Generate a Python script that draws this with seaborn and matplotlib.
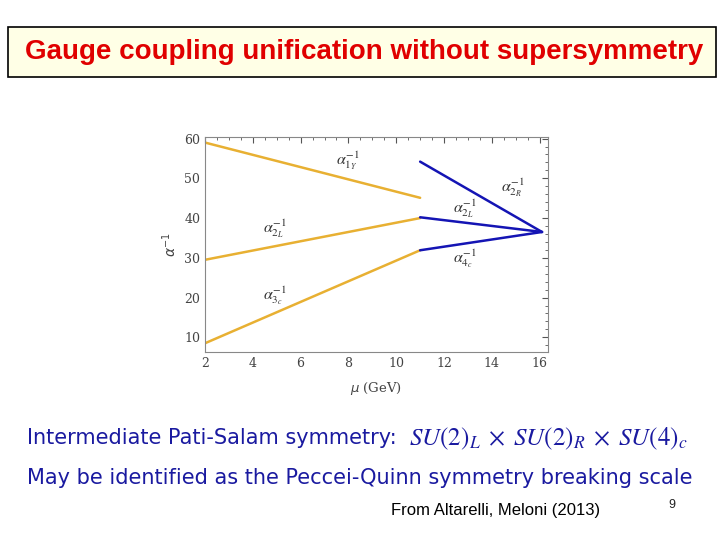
import matplotlib
matplotlib.use("Agg")
import matplotlib.pyplot as plt
import seaborn as sns
import pandas as pd
from matplotlib.patches import Rectangle
from matplotlib.ticker import MultipleLocator

sns.set_theme(style="white")
plt.rcParams['font.family'] = ['DejaVu Sans']

# ---- data ----
mu_low = [2.0, 11.0]
a1_low = [59.0, 45.1]
a2L_low = [29.5, 40.0]
a3_low = [8.5, 31.9]
mu_high = [11.0, 16.1]
a2R_high = [54.2, 36.5]
a2L_high = [40.2, 36.5]
a4_high = [31.9, 36.5]

x_ticks = [2, 4, 6, 8, 10, 12, 14, 16]
y_ticks = [10, 20, 30, 40, 50, 60]

labels_text = [r"$\alpha^{-1}_{1_Y}$", r"$\alpha^{-1}_{2_L}$", r"$\alpha^{-1}_{3_c}$",
               r"$\alpha^{-1}_{2_R}$", r"$\alpha^{-1}_{2_L}$", r"$\alpha^{-1}_{4_c}$"]
labels_x = [7.99, 4.92, 4.92, 14.88, 12.86, 12.86]
labels_y = [54.4, 37.3, 20.6, 47.7, 42.3, 29.8]

rows = []
for name, xs, ys in [("a1", mu_low, a1_low), ("a2L", mu_low, a2L_low), ("a3", mu_low, a3_low),
                     ("a2R", mu_high, a2R_high), ("a2Lh", mu_high, a2L_high), ("a4", mu_high, a4_high)]:
    for x, y in zip(xs, ys):
        rows.append({"series": name, "mu": x, "alpha": y})
df = pd.DataFrame(rows)

yellow = "#E8B032"
blue = "#1414B4"
palette = {"a1": yellow, "a2L": yellow, "a3": yellow, "a2R": blue, "a2Lh": blue, "a4": blue}

fig = plt.figure(figsize=(7.2, 5.4), dpi=100)
fig.patch.set_facecolor("white")

# title box
fig.patches.append(Rectangle((8 / 720, 1 - 77 / 540), 708 / 720, 50 / 540, transform=fig.transFigure,
                             facecolor="#FFFFE6", edgecolor="black", linewidth=1.2))
fig.text(364 / 720, 1 - 52 / 540, "Gauge coupling unification without supersymmetry",
         ha="center", va="center", fontsize=20, fontweight="bold", color="#E00000",
         family="Liberation Sans")

ax = fig.add_axes([205 / 720, 1 - 352 / 540, 343 / 720, 215 / 540])
sns.lineplot(data=df, x="mu", y="alpha", hue="series", palette=palette, legend=False,
             linewidth=1.8, ax=ax, units="series", estimator=None)
ax.set_xlim(2, 16.35)
ax.set_ylim(6.3, 60.4)
ax.set_xticks(x_ticks)
ax.set_yticks(y_ticks)
ax.xaxis.set_minor_locator(MultipleLocator(0.5))
ax.yaxis.set_minor_locator(MultipleLocator(2))
ax.tick_params(which="both", direction="in", top=True, right=True, colors="#555555",
               labelsize=9, labelcolor="#444444")
ax.tick_params(which="major", length=4, width=0.8)
ax.tick_params(which="minor", length=2, width=0.6)
for lab in ax.get_xticklabels() + ax.get_yticklabels():
    lab.set_family("DejaVu Serif")
for s in ax.spines.values():
    s.set_color("#888888")
    s.set_linewidth(0.8)
ax.set_xlabel(r"$\mu$ (GeV)", fontsize=9.5, color="#444444", family="DejaVu Serif", labelpad=7)
ax.set_ylabel(r"$\alpha^{-1}$", fontsize=10, color="#444444", labelpad=4)

for t, x, y in zip(labels_text, labels_x, labels_y):
    ax.text(x, y, t, ha="center", va="center", fontsize=11.5, color="#333333", math_fontfamily="stix")

blue_txt = "#1A1AA0"
fig.text(27 / 720, 1 - 438 / 540, "Intermediate Pati-Salam symmetry:", ha="left", va="center",
         fontsize=15, color=blue_txt, family="DejaVu Sans")
fig.text(409 / 720, 1 - 439 / 540, r"$SU(2)_L\;\times\;SU(2)_R\;\times\;SU(4)_c$", ha="left", va="center",
         fontsize=18, color=blue_txt, math_fontfamily="stix")
fig.text(27 / 720, 1 - 478 / 540, "May be identified as the Peccei-Quinn symmetry breaking scale",
         ha="left", va="center", fontsize=15, color=blue_txt, family="DejaVu Sans")
fig.text(496 / 720, 1 - 511 / 540, "From Altarelli, Meloni (2013)", ha="center", va="center",
         fontsize=12, color="black", family="Liberation Sans")
fig.text(672 / 720, 1 - 505 / 540, "9", ha="center", va="center", fontsize=9, color="#222222",
         family="Liberation Sans")

fig.savefig("out.png", dpi=100)
